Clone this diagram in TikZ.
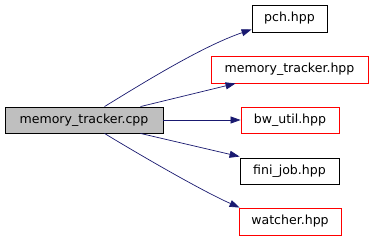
\documentclass[tikz,border=0pt]{standalone}
\usepackage{fontspec}
\setmainfont{DejaVu Sans}
\usetikzlibrary{arrows.meta}
\definecolor{edgeblue}{HTML}{191970}
\definecolor{rootfill}{HTML}{BFBFBF}
\tikzset{
  file/.style={draw=black, line width=0.9bp, inner sep=0pt, font=\fontsize{12.6}{15}\selectfont},
  missing/.style={file, draw=red},
  root/.style={file, fill=rootfill},
  dep/.style={draw=edgeblue, line width=0.7bp, -{Triangle[length=10bp,width=7bp]}}
}
\begin{document}
\begin{tikzpicture}[x=1bp,y=-1bp]
\useasboundingbox (0,0) rectangle (373,240);
\fill[white] (0,0) rectangle (373,240);
\node[root, minimum width=158bp, minimum height=26bp] (main) at (84,120) {memory\_tracker.cpp};
\node[file, minimum width=75bp, minimum height=27bp] (pch) at (289.5,18.5) {pch.hpp};
\node[missing, minimum width=157bp, minimum height=27bp] (mth) at (289.5,69.5) {memory\_tracker.hpp};
\node[missing, minimum width=98bp, minimum height=26bp] (bw) at (290,120) {bw\_util.hpp};
\node[file, minimum width=99bp, minimum height=26bp] (fini) at (289.5,171) {fini\_job.hpp};
\node[missing, minimum width=102bp, minimum height=27bp] (watch) at (290,221.5) {watcher.hpp};

\draw[dep] ([xshift=100bp]main.north west) .. controls (135,88) and (200,47) .. ([yshift=3bp]pch.south west);
\draw[dep] ([xshift=136bp]main.north west) -- ([xshift=25bp]mth.south west);
\draw[dep] (main.east) -- (bw.west);
\draw[dep] ([xshift=136bp]main.south west) -- ([yshift=1bp]fini.north west);
\draw[dep] ([xshift=100bp]main.south west) .. controls (135,152) and (200,190) .. ([xshift=1bp]watch.north west);
\end{tikzpicture}
\end{document}
